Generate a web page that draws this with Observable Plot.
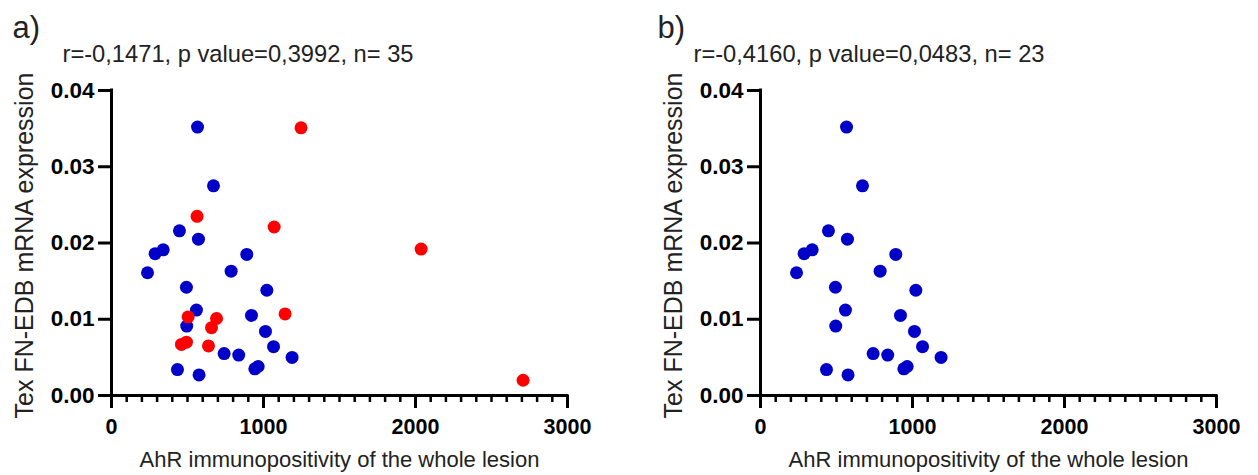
<!DOCTYPE html>
<html>
<head>
<meta charset="utf-8">
<script src="https://cdn.jsdelivr.net/npm/d3@7"></script>
<script src="https://cdn.jsdelivr.net/npm/@observablehq/plot@0.6"></script>
<style>
  html, body { margin: 0; padding: 0; background: #fff; }
  #wrap { position: relative; width: 1258px; height: 475px; overflow: hidden; }
  .panel { position: absolute; top: 0; }
</style>
</head>
<body>
<div id="wrap">
  <div class="panel" id="pa" style="left:0px"></div>
  <div class="panel" id="pb" style="left:649px"></div>
</div>
<script>
// ---- data ----
const blueX = [566, 671, 447, 572, 287, 340, 237, 890, 787, 493, 1022, 559, 495, 921, 1013, 1066, 1188, 741, 837, 943, 965, 434, 576];
const blueY = [0.0352, 0.0275, 0.0216, 0.0205, 0.0186, 0.0191, 0.0161, 0.0185, 0.0163, 0.0142, 0.0138, 0.0112, 0.0091, 0.0105, 0.0084, 0.0064, 0.0050, 0.0055, 0.0053, 0.0035, 0.0038, 0.0034, 0.0027];
const redX = [1247, 563, 1070, 1142, 504, 691, 658, 460, 493, 638, 2037, 2708];
const redY = [0.0351, 0.0235, 0.0221, 0.0107, 0.0103, 0.0101, 0.0089, 0.0067, 0.0070, 0.0065, 0.0192, 0.0020];

const panelLetters = ["a)", "b)"];
const panelStats = ["r=-0,1471, p value=0,3992, n= 35", "r=-0,4160, p value=0,0483, n= 23"];
const xLabel = "AhR immunopositivity of the whole lesion";
const yLabel = "Tex FN-EDB mRNA expression";
const xTicks = [0, 1000, 2000, 3000];
const yTicks = [0, 0.01, 0.02, 0.03, 0.04];
const xDomain = [0, 3000];
const yDomain = [0, 0.04];
const xMinorTicks = d3.range(100, 3000, 100).filter(v => v % 1000 !== 0);

const blue = blueX.map((x, i) => ({x, y: blueY[i]}));
const red = redX.map((x, i) => ({x, y: redY[i]}));

function panel(series, idx, statDx, letterDx) {
  const marks = [
    Plot.axisX({ticks: xMinorTicks, tickSize: 7, strokeWidth: 2.5, tickFormat: () => "", label: null}),
    Plot.axisX({ticks: xTicks, tickSize: 13, tickPadding: 10, strokeWidth: 3, fontSize: 21.5, fontWeight: "bold", tickFormat: d3.format("d"), label: null}),
    Plot.axisY({ticks: yTicks, tickSize: 13, tickPadding: 4, strokeWidth: 3, fontSize: 22.5, fontWeight: "bold", tickFormat: d3.format(".2f"), label: null}),
    Plot.ruleY([0], {strokeWidth: 3, strokeLinecap: "square"}),
    Plot.ruleX([0], {strokeWidth: 3, strokeLinecap: "square"})
  ];
  for (const s of series) {
    marks.push(Plot.dot(s.data, {x: "x", y: "y", r: 6.5, fill: s.color, stroke: "none"}));
  }
  marks.push(
    Plot.text([xLabel], {frameAnchor: "bottom", dy: 64.5, fontSize: 22, lineAnchor: "middle", textAnchor: "middle", fill: "#222"}),
    Plot.text([yLabel], {frameAnchor: "left", dx: -87, dy: 2.5, rotate: -90, fontSize: 25, lineAnchor: "middle", textAnchor: "middle", fill: "#222"}),
    Plot.text([panelLetters[idx]], {frameAnchor: "top-left", dx: letterDx, dy: -62, fontSize: 31, lineAnchor: "middle", textAnchor: "start", fill: "#222"}),
    Plot.text([panelStats[idx]], {frameAnchor: "top-left", dx: statDx, dy: -35.7, fontSize: 23.7, lineAnchor: "middle", textAnchor: "start", fill: "#222"})
  );
  return Plot.plot({
    width: 609,
    height: 475,
    marginLeft: 111,
    marginRight: 42,
    marginTop: 90,
    marginBottom: 80,
    x: {domain: xDomain},
    y: {domain: yDomain},
    style: {fontFamily: "'Liberation Sans', Arial, sans-serif", background: "transparent", color: "black", overflow: "visible"},
    marks
  });
}

document.getElementById("pa").appendChild(
  panel([{data: blue, color: "#0000c8"}, {data: red, color: "#ff0000"}], 0, -49, -99)
);
document.getElementById("pb").appendChild(
  panel([{data: blue, color: "#0000c8"}], 1, -67, -103)
);
</script>
</body>
</html>
